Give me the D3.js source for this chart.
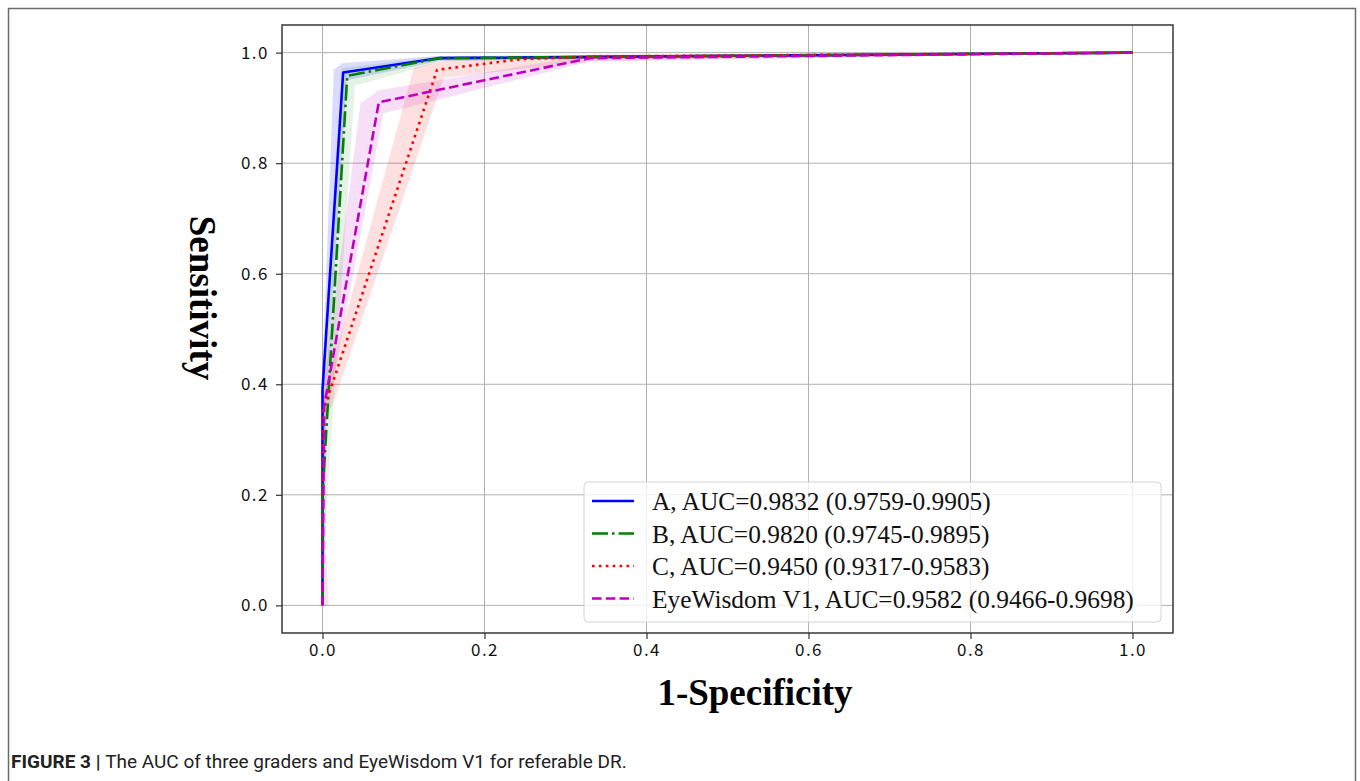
<!DOCTYPE html>
<html>
<head>
<meta charset="utf-8">
<script src="https://cdn.jsdelivr.net/npm/d3@7"></script>
<style>
  body { margin: 0; background: #fff; }
  svg { display: block; }
</style>
</head>
<body>
<script>
// ROC curves (1-specificity, sensitivity)
const fprA = [0, 0, 0.0255, 0.143, 1];
const tprA = [0, 0.39, 0.964, 0.99, 1];
const fprB = [0, 0, 0.0305, 0.145, 1];
const tprB = [0, 0.2, 0.958, 0.99, 1];
const fprC = [0, 0, 0.012, 0.1415, 0.244, 0.34, 1];
const tprC = [0, 0.35, 0.40, 0.969, 0.988, 0.993, 1];
const fprE = [0, 0.002, 0.0695, 0.33, 1];
const tprE = [0, 0.36, 0.91, 0.99, 1];

// confidence bands: upper and lower edges as [fpr, tpr]
const bandUpA = [[0, 0], [0, 0.42], [0.0139, 0.969], [0.0243, 0.981], [0.141, 0.994], [1, 1]];
const bandLoA = [[0, 0], [0.004, 0.36], [0.03, 0.95], [0.145, 0.985], [1, 1]];
const bandUpB = [[0, 0], [0, 0.24], [0.024, 0.972], [0.14, 0.993], [1, 1]];
const bandLoB = [[0, 0], [0.006, 0.2], [0.04, 0.94], [0.15, 0.985], [1, 1]];
const bandUpC = [[0, 0], [0, 0.37], [0.1126, 0.972], [0.15, 0.985], [0.34, 0.996], [1, 1]];
const bandLoC = [[0, 0], [0.003, 0.33], [0.018, 0.385], [0.15, 0.955], [0.34, 0.985], [1, 1]];
const bandUpE = [[0, 0], [0, 0.38], [0.047, 0.909], [0.0695, 0.932], [0.33, 0.996], [1, 1]];
const bandLoE = [[0.0075, 0], [0.004, 0.12], [0.005, 0.34], [0.075, 0.89], [0.33, 0.984], [1, 1]];

const labels = [
  "A, AUC=0.9832 (0.9759-0.9905)",
  "B, AUC=0.9820 (0.9745-0.9895)",
  "C, AUC=0.9450 (0.9317-0.9583)",
  "EyeWisdom V1, AUC=0.9582 (0.9466-0.9698)"
];
const colors = ["#0000ff", "#008000", "#ff0000", "#bf00bf"];
const dashes = ["none", "16,4,2.6,4", "2.6,4.3", "9.6,4.2"];
const xTicks = [0, 0.2, 0.4, 0.6, 0.8, 1.0];
const yTicks = [0, 0.2, 0.4, 0.6, 0.8, 1.0];

const W = 1360, H = 781;
const plot = { left: 282, top: 25, right: 1173, bottom: 633 };

const svg = d3.select("body").append("svg")
    .attr("width", W)
    .attr("height", H);

// cadre extérieur de la figure
svg.append("rect")
    .attr("x", 8.5).attr("y", 8.5)
    .attr("width", 1347).attr("height", 790)
    .attr("fill", "none")
    .attr("stroke", "#6b6b6b")
    .attr("stroke-width", 1.5);

const x = d3.scaleLinear().domain([-0.05, 1.05]).range([plot.left, plot.right]);
const y = d3.scaleLinear().domain([-0.05, 1.05]).range([plot.bottom, plot.top]);

// grid
const grid = svg.append("g");
grid.selectAll(".gx").data(xTicks).enter().append("line")
    .attr("x1", d => x(d)).attr("x2", d => x(d))
    .attr("y1", plot.top).attr("y2", plot.bottom)
    .attr("stroke", "#b0b0b0").attr("stroke-width", 1);
grid.selectAll(".gy").data(yTicks).enter().append("line")
    .attr("y1", d => y(d)).attr("y2", d => y(d))
    .attr("x1", plot.left).attr("x2", plot.right)
    .attr("stroke", "#b0b0b0").attr("stroke-width", 1);

svg.append("clipPath").attr("id", "clip")
  .append("rect")
    .attr("x", plot.left).attr("y", plot.top)
    .attr("width", plot.right - plot.left)
    .attr("height", plot.bottom - plot.top);

const plotG = svg.append("g").attr("clip-path", "url(#clip)");

// bands
const bands = [[bandUpA, bandLoA], [bandUpB, bandLoB], [bandUpC, bandLoC], [bandUpE, bandLoE]];
const bandOpacity = [0.14, 0.1, 0.12, 0.12];
const area = d3.line().x(d => x(d[0])).y(d => y(d[1]));
bands.forEach((b, i) => {
  const pts = b[0].concat(b[1].slice().reverse());
  plotG.append("path")
      .attr("d", area(pts) + "Z")
      .attr("fill", colors[i])
      .attr("fill-opacity", bandOpacity[i])
      .attr("stroke", "none");
});

// curves
const curves = [[fprA, tprA], [fprB, tprB], [fprC, tprC], [fprE, tprE]];
const line = d3.line().x(d => x(d[0])).y(d => y(d[1]));
curves.forEach((c, i) => {
  const pts = c[0].map((f, j) => [f, c[1][j]]);
  plotG.append("path")
      .attr("d", line(pts))
      .attr("fill", "none")
      .attr("stroke", colors[i])
      .attr("stroke-width", 2.6)
      .attr("stroke-dasharray", dashes[i])
      .attr("stroke-linejoin", "round");
});

// axes
const tickFont = "'Noto Sans CJK JP', 'DejaVu Sans', sans-serif";
const xAxis = svg.append("g")
    .attr("transform", `translate(0,${plot.bottom})`)
    .call(d3.axisBottom(x).tickValues(xTicks).tickFormat(d3.format(".1f")).tickSize(6).tickPadding(5));
const yAxis = svg.append("g")
    .attr("transform", `translate(${plot.left},0)`)
    .call(d3.axisLeft(y).tickValues(yTicks).tickFormat(d3.format(".1f")).tickSize(6).tickPadding(7));
[xAxis, yAxis].forEach(a => {
  a.select(".domain").remove();
  a.selectAll(".tick line").attr("stroke", "#333").attr("stroke-width", 1.2);
  a.selectAll(".tick text")
      .attr("fill", "#111")
      .style("font-family", tickFont)
      .style("font-size", "17px")
      .style("letter-spacing", "1.5px");
});

svg.append("rect")
    .attr("x", plot.left).attr("y", plot.top)
    .attr("width", plot.right - plot.left)
    .attr("height", plot.bottom - plot.top)
    .attr("fill", "none")
    .attr("stroke", "#2a2a2a")
    .attr("stroke-width", 1.4);

// legend
const leg = svg.append("g").attr("transform", "translate(584,482)");
leg.append("rect")
    .attr("width", 577).attr("height", 140)
    .attr("rx", 4)
    .attr("fill", "#fff").attr("fill-opacity", 0.8)
    .attr("stroke", "#d4d4d4");
labels.forEach((t, i) => {
  const ry = 19 + i * 32.5;
  leg.append("line")
      .attr("x1", 8).attr("x2", 50)
      .attr("y1", ry).attr("y2", ry)
      .attr("stroke", colors[i])
      .attr("stroke-width", 2.6)
      .attr("stroke-dasharray", dashes[i]);
  leg.append("text")
      .attr("x", 68).attr("y", ry + 9)
      .style("font-family", "'Liberation Serif', 'Times New Roman', serif")
      .style("font-size", "25.4px")
      .attr("fill", "#111")
      .text(t);
});

// axis titles
svg.append("text")
    .attr("x", 755).attr("y", 705)
    .attr("text-anchor", "middle")
    .style("font-family", "'Liberation Serif', 'Times New Roman', serif")
    .style("font-weight", "bold")
    .style("font-size", "37px")
    .attr("fill", "#000")
    .text("1-Specificity");

svg.append("text")
    .attr("transform", "translate(190,298) rotate(90)")
    .attr("text-anchor", "middle")
    .style("font-family", "'Liberation Serif', 'Times New Roman', serif")
    .style("font-weight", "bold")
    .style("font-size", "37px")
    .attr("fill", "#000")
    .text("Sensitivity");

// caption
const cap = svg.append("text")
    .attr("x", 11).attr("y", 768)
    .style("font-family", "Roboto, 'Liberation Sans', sans-serif")
    .style("font-size", "19px")
    .attr("fill", "#222");
cap.append("tspan").style("font-weight", "bold").text("FIGURE 3 | ");
cap.append("tspan").text("The AUC of three graders and EyeWisdom V1 for referable DR.");
</script>
</body>
</html>
